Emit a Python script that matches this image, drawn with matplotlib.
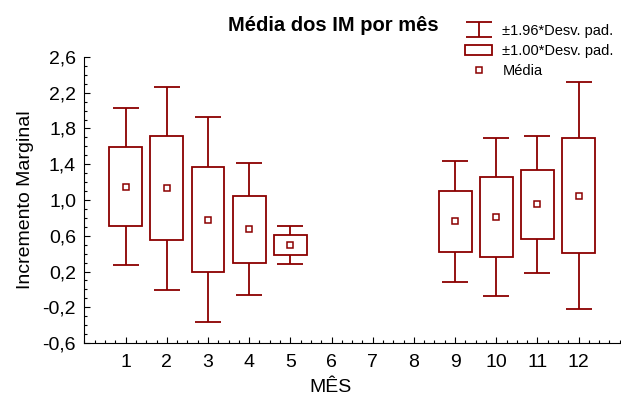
import matplotlib
matplotlib.use("Agg")
import matplotlib.pyplot as plt
from matplotlib.ticker import MultipleLocator

plt.rcParams['font.family'] = ['Liberation Sans', 'DejaVu Sans']

# Media e desvio padrao por mes
meses = [1, 2, 3, 4, 5, 9, 10, 11, 12]
medias = [1.15, 1.13, 0.78, 0.673, 0.495, 0.76, 0.81, 0.95, 1.05]
desvios = [0.446, 0.581, 0.584, 0.377, 0.11, 0.345, 0.452, 0.39, 0.647]
rotulos_x = [str(m) for m in range(1, 13)]
ticks_y = [-0.6, -0.2, 0.2, 0.6, 1.0, 1.4, 1.8, 2.2, 2.6]

COR = '#8b0000'


def make_figure():
    fig = plt.figure(figsize=(6.21, 3.98), dpi=100)
    ax = fig.add_axes([0.136, 0.138, 0.862, 0.719])

    caixa_base = [m - s for m, s in zip(medias, desvios)]
    caixa_alt = [2 * s for s in desvios]
    bigodes = [1.96 * s for s in desvios]

    eb = ax.errorbar(meses, medias, yerr=bigodes, fmt='none', ecolor=COR,
                     elinewidth=1.3, capsize=9.3, capthick=1.3, zorder=2,
                     label='±1.96*Desv. pad.')
    bars = ax.bar(meses, caixa_alt, bottom=caixa_base, width=0.8,
                  facecolor='white', edgecolor=COR, linewidth=1.3, zorder=3,
                  label='±1.00*Desv. pad.')
    pts, = ax.plot(meses, medias, 's', ms=4, mfc='white', mec=COR, mew=1.1,
                   linestyle='none', zorder=4, label='Média')

    ax.set_xlim(0, 13)
    ax.set_ylim(-0.6, 2.6)
    ax.set_xticks(range(1, 13))
    ax.set_xticklabels(rotulos_x)
    ax.set_yticks(ticks_y)
    ax.set_yticklabels([f'{v:.1f}'.replace('.', ',') for v in ticks_y])
    ax.yaxis.set_minor_locator(MultipleLocator(0.1))
    ax.xaxis.set_minor_locator(MultipleLocator(0.25))
    ax.tick_params(which='both', direction='in', labelsize=14, colors='black')
    ax.tick_params(which='major', length=4, width=0.8)
    ax.tick_params(which='minor', length=2.5, width=0.8)
    ax.tick_params(axis='x', pad=8)
    ax.tick_params(axis='y', pad=6)
    ax.spines['top'].set_visible(False)
    ax.spines['right'].set_visible(False)

    ax.set_xlabel('MÊS', fontsize=14)
    ax.xaxis.set_label_coords(0.46, -0.125)
    ax.set_ylabel('Incremento Marginal', fontsize=14)
    ax.yaxis.set_label_coords(-0.095, 0.5)

    fig.text(0.536, 0.937, 'Média dos IM por mês', ha='center', va='center',
             fontsize=14.5, fontweight='bold')

    fig.legend(handles=[eb, bars, pts], loc='upper left',
               bbox_to_anchor=(0.749, 0.94), frameon=False, fontsize=10.5,
               handlelength=1.85, handletextpad=0.7, labelspacing=0.42,
               borderaxespad=0, borderpad=0)

    fig.savefig('out.png', dpi=100)


def main():
    make_figure()


if __name__ == "__main__":
    main()
